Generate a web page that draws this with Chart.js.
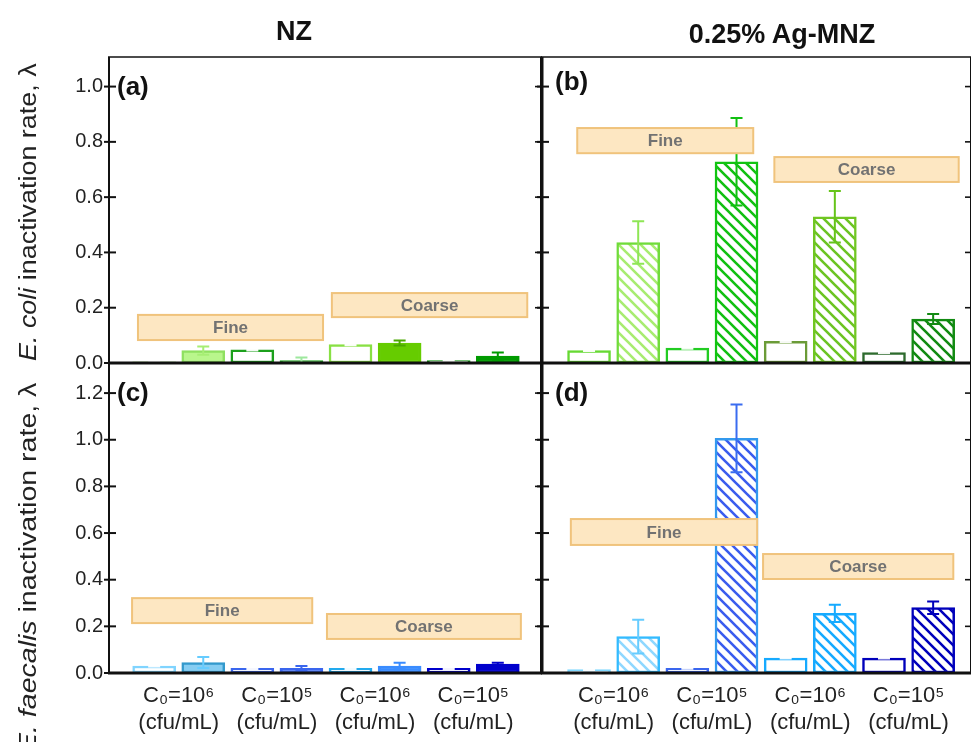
<!DOCTYPE html>
<html>
<head>
<meta charset="utf-8">
<script src="https://cdn.jsdelivr.net/npm/chart.js@4.4.1/dist/chart.umd.min.js"></script>
<style>
  body { margin: 0; background: #fff; }
  #wrap { position: relative; width: 971px; height: 742px; overflow: hidden; font-family: 'Liberation Sans', Arial, sans-serif; color: #111; }
  #wrap canvas { position: absolute; left: 0; top: 0; }
  .title { position: absolute; font-weight: bold; font-size: 27px; transform: translate(-50%, -50%); white-space: nowrap; }
  .tag { position: absolute; font-weight: bold; font-size: 26px; transform: translateY(-50%); }
  .ylab { position: absolute; font-size: 23px; white-space: nowrap; transform: rotate(-90deg) scaleX(1.17); transform-origin: left top; line-height: 26px; color: #222; }
</style>
</head>
<body>
<div id="wrap">
  <canvas id="chartA" width="971" height="742"></canvas>
  <canvas id="chartB" width="971" height="742"></canvas>
  <canvas id="chartC" width="971" height="742"></canvas>
  <canvas id="chartD" width="971" height="742"></canvas>
  <div class="title" style="left:294px; top:31px;">NZ</div>
  <div class="title" style="left:782px; top:34px;">0.25% Ag-MNZ</div>
  <div class="tag" style="left:117px; top:86px;">(a)</div>
  <div class="tag" style="left:555px; top:81px;">(b)</div>
  <div class="tag" style="left:117px; top:392px;">(c)</div>
  <div class="tag" style="left:555px; top:392px;">(d)</div>
  <div class="ylab" style="left:15px; top:361px;"><i>E. coli</i> inactivation rate, λ</div>
  <div class="ylab" style="left:15px; top:752px; transform: rotate(-90deg) scaleX(1.24);"><i>E. faecalis</i> inactivation rate, λ</div>
</div>
<script>
// bar positions on the x axis and where the group labels sit
const barPos = [1, 2, 3, 4, 5, 6, 7, 8];
const labelPos = [1.5, 3.5, 5.5, 7.5];
const xLabels = [
  ["C₀=10⁶", "(cfu/mL)"],
  ["C₀=10⁵", "(cfu/mL)"],
  ["C₀=10⁶", "(cfu/mL)"],
  ["C₀=10⁵", "(cfu/mL)"]
];
const yTicksTop = [0, 0.2, 0.4, 0.6, 0.8, 1.0];
const yTicksBottom = [0, 0.2, 0.4, 0.6, 0.8, 1.0, 1.2];

// E. coli, NZ (a) and 0.25% Ag-MNZ (b)
const ecoliNZ = [0.004, 0.045, 0.048, 0.009, 0.067, 0.072, 0.009, 0.025];
const ecoliNZErr = [0.002, 0.015, 0.003, 0.011, 0.003, 0.009, 0.002, 0.013];
const ecoliAg = [0.045, 0.436, 0.054, 0.728, 0.078, 0.529, 0.038, 0.159];
const ecoliAgErr = [0.002, 0.077, 0.002, 0.158, 0.002, 0.093, 0.002, 0.018];

// E. faecalis, NZ (c) and 0.25% Ag-MNZ (d)
const faecNZ = [0.03, 0.045, 0.02, 0.02, 0.02, 0.03, 0.02, 0.038];
const faecNZErr = [0.002, 0.024, 0.003, 0.01, 0.003, 0.014, 0.003, 0.006];
const faecAg = [0.015, 0.156, 0.02, 1.006, 0.064, 0.256, 0.064, 0.28];
const faecAgErr = [0.002, 0.072, 0.002, 0.145, 0.002, 0.037, 0.002, 0.027];

// "Fine" / "Coarse" boxes, in data units [x0, x1, y0, y1]
const boxesA = [["Fine", 0.67, 4.44, 0.083, 0.174], ["Coarse", 4.62, 8.6, 0.166, 0.253]];
const boxesB = [["Fine", 0.76, 4.34, 0.759, 0.85], ["Coarse", 4.77, 8.52, 0.655, 0.745]];
const boxesC = [["Fine", 0.55, 4.22, 0.214, 0.321], ["Coarse", 4.52, 8.47, 0.146, 0.253]];
const boxesD = [["Fine", 0.63, 4.42, 0.549, 0.66], ["Coarse", 4.54, 8.41, 0.403, 0.51]];

Chart.defaults.font.family = "'Liberation Sans', Arial, sans-serif";

function hatch(color) {
  const c = document.createElement("canvas");
  c.width = c.height = 11;
  const g = c.getContext("2d");
  g.fillStyle = "#fff";
  g.fillRect(0, 0, 11, 11);
  g.strokeStyle = color;
  g.lineWidth = 2.6;
  g.beginPath();
  g.moveTo(-3, -3); g.lineTo(14, 14);
  g.moveTo(-3, 8); g.lineTo(3, 14);
  g.moveTo(8, -3); g.lineTo(14, 3);
  g.stroke();
  return g.createPattern(c, "repeat");
}

const W = "#ffffff";
const WE = "rgba(255,255,255,0.95)";

const fillA = [W, "#b9f68c", W, "#20a020", W, "#66cc00", W, "#009a00"];
const lineA = ["#8fe060", "#8fe060", "#1ca01c", "#1ca01c", "#88e044", "#66cc00", "#0b8f0b", "#009a00"];
const errA = [WE, "#a6ee74", WE, "#9ee89e", WE, "#4aa800", WE, "#009a00"];

const fillB = [W, hatch("#a8ec70"), W, hatch("#11c011"), W, hatch("#6cc422"), W, hatch("#128a12")];
const lineB = ["#66d933", "#70dc3a", "#22cc22", "#11c411", "#6b9b37", "#70c622", "#2e6b2e", "#128a12"];
const errB = [WE, "#8ee655", WE, "#11c011", WE, "#66c41a", WE, "#128a12"];

const fillC = [W, "#86cdf2", W, "#3f6df0", W, "#3a8cff", W, "#0000cc"];
const lineC = ["#80d4ff", "#3399cc", "#3a66ee", "#3a66ee", "#22aaee", "#3a8cff", "#0000cc", "#0000cc"];
const errC = [WE, "#66ccff", WE, "#3a66ee", WE, "#3a8cff", WE, "#0000cc"];

const fillD = [W, hatch("#8fd8ff"), W, hatch("#3a5cee"), W, hatch("#16aaff"), W, hatch("#0000bb")];
const lineD = ["#80d8ff", "#33bbff", "#3a66ee", "#3399ee", "#16aaff", "#16aaff", "#0000bb", "#0000bb"];
const errD = [WE, "#66ccff", WE, "#3a6cf0", WE, "#16aaff", WE, "#0000bb"];

function panelPlugins(values, errs, errColors, boxes, leftW) {
  return [{
    id: "extras",
    afterDatasetsDraw(chart) {
      const { ctx, scales: { x, y } } = chart;
      const meta = chart.getDatasetMeta(0);
      ctx.save();
      // error bars
      meta.data.forEach((bar, i) => {
        const top = y.getPixelForValue(values[i] + errs[i]);
        const bot = y.getPixelForValue(Math.max(values[i] - errs[i], 0));
        ctx.strokeStyle = errColors[i];
        ctx.lineWidth = 2;
        ctx.beginPath();
        ctx.moveTo(bar.x, top); ctx.lineTo(bar.x, bot);
        ctx.moveTo(bar.x - 6, top); ctx.lineTo(bar.x + 6, top);
        ctx.moveTo(bar.x - 6, bot); ctx.lineTo(bar.x + 6, bot);
        ctx.stroke();
      });
      // annotation boxes
      boxes.forEach(([text, x0, x1, y0, y1]) => {
        const l = x.getPixelForValue(x0), r = x.getPixelForValue(x1);
        const t = y.getPixelForValue(y1), b = y.getPixelForValue(y0);
        ctx.fillStyle = "#fde7c2";
        ctx.fillRect(l, t, r - l, b - t);
        ctx.strokeStyle = "#f0c37c";
        ctx.lineWidth = 2;
        ctx.strokeRect(l, t, r - l, b - t);
        ctx.fillStyle = "#727272";
        ctx.font = "bold 17px 'Liberation Sans', Arial, sans-serif";
        ctx.textAlign = "center";
        ctx.textBaseline = "middle";
        ctx.fillText(text, (l + r) / 2, (t + b) / 2 + 1);
      });
      ctx.restore();
    },
    afterDraw(chart) {
      const { ctx, chartArea: a, scales: { y } } = chart;
      ctx.save();
      ctx.strokeStyle = "#111";
      const seg = (x0, y0, x1, y1, w) => {
        ctx.lineWidth = w;
        ctx.beginPath(); ctx.moveTo(x0, y0); ctx.lineTo(x1, y1); ctx.stroke();
      };
      seg(a.left - 1, a.top, a.right + 1, a.top, 1.6);
      seg(a.left - 1, a.bottom, a.right + 1, a.bottom, 3);
      seg(a.left, a.top, a.left, a.bottom, leftW);
      seg(a.right, a.top, a.right, a.bottom, 2);
      y.ticks.forEach(t => {
        const py = y.getPixelForValue(t.value);
        seg(a.left - 5, py, a.left + 7, py, 2);
        seg(a.right - 6, py, a.right, py, 1.6);
      });
      ctx.restore();
    }
  }];
}

function makePanel(id, opts) {
  const showX = opts.showX;
  return new Chart(document.getElementById(id), {
    type: "bar",
    data: {
      datasets: [{
        data: barPos.map((x, i) => ({ x: x, y: opts.values[i] })),
        backgroundColor: opts.fill,
        borderColor: opts.line,
        borderWidth: 2.5,
        borderSkipped: false,
        barThickness: 43
      }]
    },
    options: {
      responsive: false,
      animation: false,
      layout: { padding: opts.padding },
      plugins: { legend: { display: false }, tooltip: { enabled: false } },
      scales: {
        x: {
          type: "linear",
          offset: false,
          min: opts.xMin,
          max: opts.xMax,
          display: showX,
          afterBuildTicks: s => { s.ticks = labelPos.map(v => ({ value: v })); },
          afterFit: s => { s.height = showX ? 69 : 0; },
          grid: { display: false, drawTicks: false },
          border: { display: false },
          ticks: {
            autoSkip: false,
            maxRotation: 0,
            padding: 10,
            color: "#222",
            font: { size: 22 },
            callback: (v, i) => xLabels[i]
          }
        },
        y: {
          min: 0,
          max: opts.yMax,
          afterBuildTicks: s => { s.ticks = opts.yTicks.map(v => ({ value: v })); },
          afterFit: s => { s.width = opts.showY ? 109 : 0; },
          grid: { display: false, drawTicks: false },
          border: { display: false },
          ticks: {
            display: opts.showY,
            padding: 6,
            color: "#222",
            font: { size: 20 },
            callback: v => v.toFixed(1)
          }
        }
      }
    },
    plugins: panelPlugins(opts.values, opts.errs, opts.err, opts.boxes, opts.leftW)
  });
}

makePanel("chartA", {
  values: ecoliNZ, errs: ecoliNZErr, fill: fillA, line: lineA, err: errA, boxes: boxesA,
  padding: { left: 0, top: 57, right: 430, bottom: 379 },
  xMin: 0.08, xMax: 8.88, yMax: 1.107, yTicks: yTicksTop, showX: false, showY: true, leftW: 2
});
makePanel("chartB", {
  values: ecoliAg, errs: ecoliAgErr, fill: fillB, line: lineB, err: errB, boxes: boxesB,
  padding: { left: 542, top: 57, right: 0, bottom: 379 },
  xMin: 0.043, xMax: 8.77, yMax: 1.107, yTicks: yTicksTop, showX: false, showY: false, leftW: 3
});
makePanel("chartC", {
  values: faecNZ, errs: faecNZErr, fill: fillC, line: lineC, err: errC, boxes: boxesC,
  padding: { left: 0, top: 363, right: 430, bottom: 0 },
  xMin: 0.08, xMax: 8.88, yMax: 1.329, yTicks: yTicksBottom, showX: true, showY: true, leftW: 2
});
makePanel("chartD", {
  values: faecAg, errs: faecAgErr, fill: fillD, line: lineD, err: errD, boxes: boxesD,
  padding: { left: 542, top: 363, right: 0, bottom: 0 },
  xMin: 0.043, xMax: 8.77, yMax: 1.329, yTicks: yTicksBottom, showX: true, showY: false, leftW: 3
});
</script>
</body>
</html>
